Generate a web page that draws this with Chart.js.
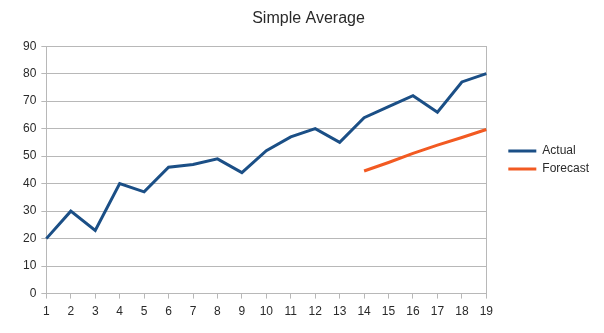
<!DOCTYPE html>
<html>
<head>
<meta charset="utf-8">
<script src="https://cdn.jsdelivr.net/npm/chart.js@4"></script>
<style>
  body { margin: 0; background: #fff; }
  #chart { display: block; }
</style>
</head>
<body>
<canvas id="chart" width="604" height="333"></canvas>
<script>
// data
var periods = ['1','2','3','4','5','6','7','8','9','10','11','12','13','14','15','16','17','18','19']
var actual = [20, 30, 23, 40, 37, 46, 47, 49, 44, 52, 57, 60, 55, 64, 68, 72, 66, 77, 80]
var forecast = [null, null, null, null, null, null, null, null, null, null, null, null, null, 44.6, 47.7, 51, 54, 56.8, 59.7]
var yTicks = {min: 0, max: 90, step: 10}

var gridGray = '#b8b8b8'
var textColor = '#2a2a2a'
var font12 = { family: 'Liberation Sans', size: 12 }

// legend sits a little above the middle in the original
var nudgeLegend = {
    id: 'nudgeLegend',
    afterLayout: function(chart) {
        chart.legend.top -= 6
        chart.legend.bottom -= 6
    }
}

var ctx = document.getElementById('chart').getContext('2d')
var chart = new Chart(ctx, {
    type: 'line',
    data: {
        labels: periods,
        datasets: [
            {
                label: 'Actual',
                data: actual,
                borderColor: '#1b4f86',
                backgroundColor: '#1b4f86',
                borderWidth: 3,
                pointRadius: 0,
                tension: 0
            },
            {
                label: 'Forecast',
                data: forecast,
                borderColor: '#f25a22',
                backgroundColor: '#f25a22',
                borderWidth: 3,
                pointRadius: 0,
                tension: 0
            }
        ]
    },
    options: {
        responsive: false,
        animation: false,
        layout: { padding: { left: 18, right: 5, top: 7, bottom: 8 } },
        plugins: {
            title: {
                display: true,
                text: 'Simple Average',
                color: textColor,
                font: { family: 'Liberation Sans', size: 16, weight: 'normal' },
                padding: { top: 2, bottom: 18 }
            },
            legend: {
                position: 'right',
                labels: {
                    boxWidth: 28,
                    boxHeight: 0,
                    padding: 6,
                    color: textColor,
                    font: font12
                }
            },
            tooltip: { enabled: false }
        },
        scales: {
            x: {
                offset: false,
                grid: { drawOnChartArea: false, tickColor: gridGray, tickLength: 5 },
                border: { color: gridGray },
                ticks: { autoSkip: false, maxRotation: 0, color: textColor, padding: 6, font: font12 }
            },
            y: {
                min: yTicks.min,
                max: yTicks.max,
                grid: { color: gridGray, tickColor: gridGray, tickLength: 5 },
                border: { color: gridGray },
                ticks: { stepSize: yTicks.step, color: textColor, padding: 5, font: font12 }
            },
            // empty right axis: draws the right frame line and leaves a gap before the legend
            yRight: {
                position: 'right',
                min: yTicks.min,
                max: yTicks.max,
                grid: { drawOnChartArea: false, drawTicks: false },
                border: { color: gridGray },
                ticks: { display: false },
                afterFit: function(s) { s.width = 16 }
            }
        }
    },
    plugins: [nudgeLegend]
})
</script>
</body>
</html>
